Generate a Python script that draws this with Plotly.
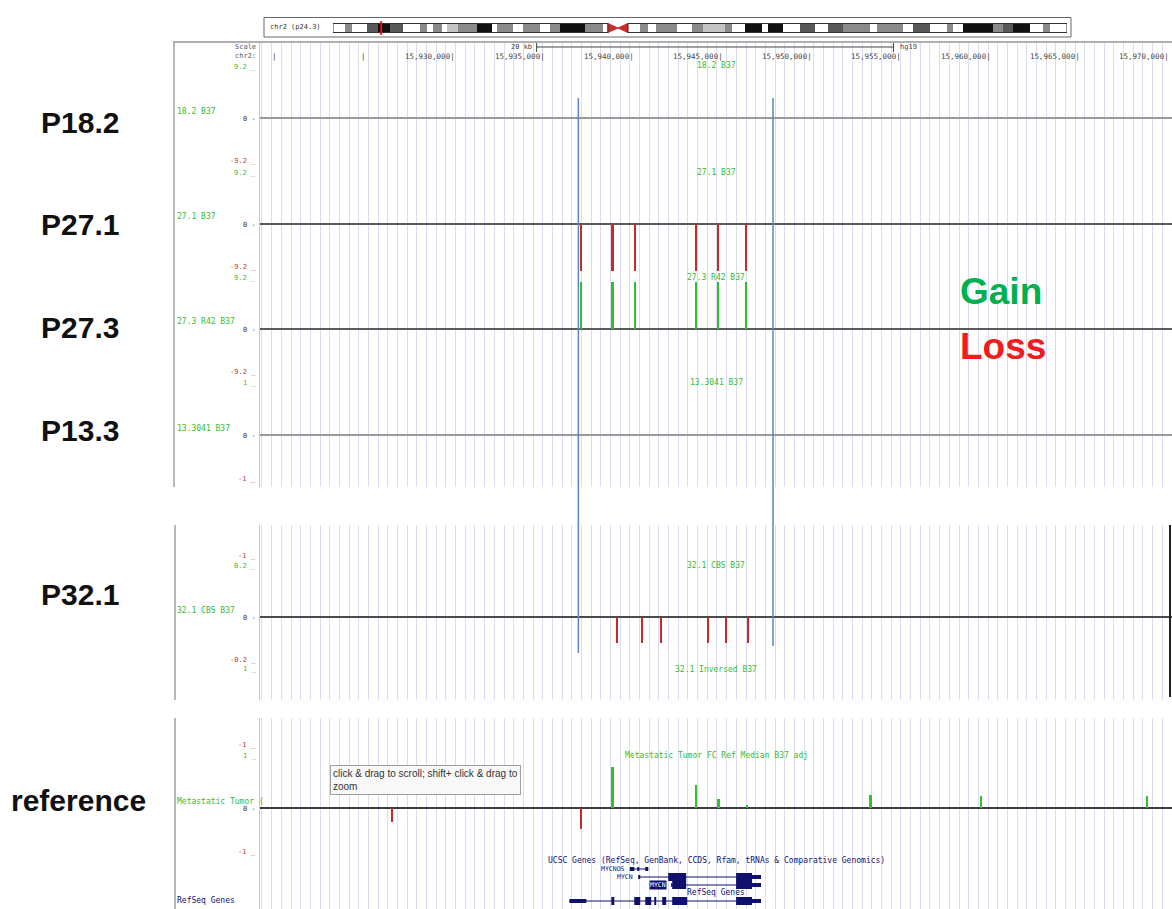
import plotly.graph_objects as go

W, H = 1172, 909


def fx(px):
    return px / W


def fy(px):
    return 1 - px / H


# ---------------- data ----------------
chrom_name = "chr2"
chrom_band = "p24.3"
assembly = "hg19"
view_start = 15918943
view_end = 15970050
ruler_ticks = [15920000, 15925000, 15930000, 15935000, 15940000, 15945000,
               15950000, 15955000, 15960000, 15965000, 15970000]
guide_start = 15919597
guide_step = 542.5
highlight_bounds = [15936784, 15947690]
scale_bar_bounds = [15934446, 15954446]
scale_bar_label = "20 kb"

chrom_length_mb = 243.2
band_start_mb = [0.0, 4.0, 6.3, 11.3, 14.9, 18.9, 23.2, 28.8, 31.1, 33.1,
                 36.1, 37.8, 41.4, 47.7, 52.7, 54.3, 59.6, 62.9, 68.6, 71.9,
                 75.2, 83.5, 89.4, 91.1, 94.4, 97.7, 101.7, 104.4, 107.0, 114.0,
                 118.9, 122.6, 129.9, 132.2, 136.5, 142.1, 144.1, 149.1, 154.7, 159.7,
                 164.0, 169.0, 177.9, 180.2, 188.8, 192.2, 197.8, 203.4, 205.4, 208.7,
                 218.7, 222.0, 225.3, 230.9, 235.2, 237.5]
band_stain = ["gneg", "gpos50", "gneg", "gpos75", "gpos100", "gpos75", "gneg", "gpos50", "gneg", "gpos50",
              "gneg", "gpos25", "gpos50", "gpos100", "gneg", "gpos50", "gneg", "gpos50", "gneg", "gpos50",
              "gpos100", "gpos50", "gneg", "acen", "acen", "gneg", "gpos50", "gneg", "gpos50", "gneg",
              "gpos50", "gpos25", "gpos50", "gneg", "gpos100", "gneg", "gpos100", "gneg", "gpos75", "gneg",
              "gpos75", "gpos50", "gneg", "gpos50", "gneg", "gpos75", "gneg", "gpos50", "gneg", "gpos100",
              "gpos50", "gpos75", "gpos100", "gneg", "gpos50", "gneg"]
view_center_mb = 15.944

sample_labels = ["P18.2", "P27.1", "P27.3", "P13.3", "P32.1", "reference"]
track_titles = ["18.2 B37", "27.1 B37", "27.3 R42 B37", "13.3041 B37", "32.1 CBS B37",
                "Metastatic Tumor FC Ref Median B37 adj"]
track_side_names = ["18.2 B37", "27.1 B37", "27.3 R42 B37", "13.3041 B37", "32.1 CBS B37",
                    "Metastatic Tumor ("]
track_limits = [9.2, 9.2, 9.2, 1.0, 0.2, 1.0]
track_top_text = ["9.2", "9.2", "9.2", "1", "0.2", "1"]
track_bottom_text = ["-9.2", "-9.2", "-9.2", "-1", "-0.2", "-1"]

p18_2_pos = []
p18_2_val = []
p18_2_width = []
p27_1_pos = [15936952, 15938686, 15939973, 15943384, 15944615, 15946181]
p27_1_val = [-9.2, -9.2, -9.2, -9.2, -9.2, -9.2]
p27_1_width = [110, 160, 80, 110, 130, 130]
p27_3_pos = [15936952, 15938686, 15939973, 15943384, 15944615, 15946181]
p27_3_val = [9.2, 9.2, 9.2, 9.2, 9.2, 9.2]
p27_3_width = [110, 160, 80, 110, 130, 130]
p13_3_pos = []
p13_3_val = []
p13_3_width = []
p32_1_pos = [15938982, 15940381, 15941410, 15944056, 15945079, 15946310]
p32_1_val = [-0.11, -0.11, -0.11, -0.11, -0.11, -0.11]
p32_1_width = [70, 70, 70, 110, 120, 110]
ref_pos = [15926365, 15936969, 15938686, 15943373, 15944643, 15946237, 15953172, 15959352, 15968653]
ref_val = [-0.30, -0.44, 0.85, 0.47, 0.19, 0.07, 0.27, 0.24, 0.24]
ref_width = [90, 90, 160, 100, 110, 110, 150, 150, 150]

genes = [
    dict(name="MYCNOS", row=0, start=15939665, end=15940700, label="plain",
         exons=[(15939665, 15939917, "utr"), (15940084, 15940196, "utr"), (15940532, 15940700, "utr")]),
    dict(name="MYCN", row=1, start=15940140, end=15947020, label="plain",
         exons=[(15940140, 15940252, "utr"), (15941818, 15942825, "cds"),
                (15945622, 15946516, "cds"), (15946516, 15947020, "utr")]),
    dict(name="MYCN", row=2, start=15941986, end=15947020, label="boxed",
         exons=[(15941986, 15942042, "utr"), (15942042, 15942825, "cds"),
                (15945622, 15946516, "cds"), (15946516, 15947020, "utr")]),
    dict(name="", row=4, start=15936281, end=15947020, label="none",
         exons=[(15936281, 15937232, "utr"), (15938630, 15938798, "cds"), (15939917, 15940252, "cds"),
                (15940532, 15940867, "cds"), (15941035, 15941147, "cds"), (15941483, 15941706, "cds"),
                (15942042, 15942881, "cds"), (15945622, 15946516, "cds"), (15946516, 15947020, "utr")]),
]

# ---------------- style / layout constants ----------------
MONO = "DejaVu Sans Mono"
SANS = "Liberation Sans, Arial"
GREEN = "#2fc12f"
RED = "#c42b2b"
GREEN_TXT = "#33bb33"
RED_TXT = "#cc3333"
NAVY = "#10106e"
GRID = "#dcdcf0"

panels_px = [(42, 487), (525, 700), (718, 909)]
track_zero_px = [118, 224, 329, 435, 617, 808]
track_half_px = [47, 47, 47, 48, 47, 48]
zero_colors = ["#9a9a9a", "#5a5a5a", "#5a5a5a", "#9a9a9a", "#4a4a4a", "#3a3a3a"]
sample_label_y = [122, 224, 327, 430, 594, 800]
sample_label_x = [39, 39, 39, 39, 39, 9]

track_data = [(p18_2_pos, p18_2_val, p18_2_width), (p27_1_pos, p27_1_val, p27_1_width),
              (p27_3_pos, p27_3_val, p27_3_width), (p13_3_pos, p13_3_val, p13_3_width),
              (p32_1_pos, p32_1_val, p32_1_width), (ref_pos, ref_val, ref_width)]

fig = go.Figure()

hidden = dict(showgrid=False, zeroline=False, showticklabels=False, ticks="", showline=False, fixedrange=True)
layout_axes = {}

# background panels (guidelines + left pink line)
for i, (top, bot) in enumerate(panels_px):
    name = "y" if i == 0 else f"y{i + 1}"
    key = "yaxis" if i == 0 else f"yaxis{i + 1}"
    layout_axes[key] = dict(hidden, domain=[fy(bot), fy(top)], range=[0, 1], anchor="x",
                            showline=True, linecolor="#f2b4b4", linewidth=1)
    fig.add_trace(go.Scatter(x=[view_start], y=[0.5], mode="markers", marker=dict(opacity=0),
                             hoverinfo="skip", xaxis="x", yaxis=name))

# data tracks
for k, (pos, val, wid) in enumerate(track_data):
    n = k + 4
    zero, half = track_zero_px[k], track_half_px[k]
    lim = track_limits[k]
    layout_axes[f"yaxis{n}"] = dict(hidden, domain=[fy(zero + half), fy(zero - half)], range=[-lim, lim],
                                    anchor="x", zeroline=True, zerolinecolor=zero_colors[k], zerolinewidth=2)
    fig.add_trace(go.Scatter(x=[view_start], y=[0], mode="markers", marker=dict(opacity=0),
                             hoverinfo="skip", xaxis="x", yaxis=f"y{n}"))
    if pos:
        fig.add_trace(go.Bar(x=pos, y=val, width=wid,
                             marker=dict(color=[GREEN if v > 0 else RED for v in val], line=dict(width=0)),
                             hoverinfo="skip", xaxis="x", yaxis=f"y{n}"))

# gene track
layout_axes["yaxis10"] = dict(hidden, domain=[fy(908), fy(861)], range=[4.875, -1], anchor="x")
gene_anns = []
for g in genes:
    fig.add_trace(go.Scatter(x=[g["start"], g["end"]], y=[g["row"], g["row"]], mode="lines",
                             line=dict(color=NAVY, width=1), hoverinfo="skip", xaxis="x", yaxis="y10"))
    for kind, lw in (("utr", 4), ("cds", 8)):
        xs, ys = [], []
        for s, e, t in g["exons"]:
            if t == kind:
                xs += [s, e, None]
                ys += [g["row"], g["row"], None]
        if xs:
            fig.add_trace(go.Scatter(x=xs, y=ys, mode="lines", line=dict(color=NAVY, width=lw),
                                     hoverinfo="skip", xaxis="x", yaxis="y10"))
    if g["label"] == "plain":
        gene_anns.append(dict(text=g["name"], x=g["start"], xref="x", y=g["row"], yref="y10",
                              xanchor="right", xshift=-3, yanchor="middle", showarrow=False,
                              font=dict(family=MONO, size=6.5, color=NAVY)))
    elif g["label"] == "boxed":
        gene_anns.append(dict(text=g["name"], x=g["start"], xref="x", y=g["row"], yref="y10",
                              xanchor="right", xshift=-4, yanchor="middle", showarrow=False,
                              bgcolor=NAVY, borderpad=0, font=dict(family=MONO, size=6.5, color="white")))

# ideogram
stain_colors = {"gneg": "#ffffff", "gpos25": "#c4c4c4", "gpos50": "#8a8a8a",
                "gpos75": "#585858", "gpos100": "#111111"}
band_end_mb = band_start_mb[1:] + [chrom_length_mb]
bs, bl, bc = [], [], []
acen_idx = []
for i, (s, e, st) in enumerate(zip(band_start_mb, band_end_mb, band_stain)):
    if st == "acen":
        acen_idx.append(i)
        continue
    bs.append(s)
    bl.append(e - s)
    bc.append(stain_colors[st])
fig.add_trace(go.Bar(orientation="h", y=[0.5] * len(bs), x=bl, base=bs, width=1,
                     marker=dict(color=bc, line=dict(width=0)), hoverinfo="skip", xaxis="x2", yaxis="y11"))
p_cen_start = band_start_mb[acen_idx[0]]
cen_mid = band_end_mb[acen_idx[0]]
q_cen_end = band_end_mb[acen_idx[-1]]
fig.add_trace(go.Scatter(x=[p_cen_start, p_cen_start, cen_mid, p_cen_start], y=[0, 1, 0.5, 0],
                         fill="toself", fillcolor="#cc2b2b", mode="lines", line=dict(color="#cc2b2b", width=1),
                         hoverinfo="skip", xaxis="x2", yaxis="y11"))
fig.add_trace(go.Scatter(x=[q_cen_end, q_cen_end, cen_mid, q_cen_end], y=[0, 1, 0.5, 0],
                         fill="toself", fillcolor="#cc2b2b", mode="lines", line=dict(color="#cc2b2b", width=1),
                         hoverinfo="skip", xaxis="x2", yaxis="y11"))
fig.add_trace(go.Scatter(x=[0, p_cen_start, p_cen_start, 0, 0, None,
                            q_cen_end, chrom_length_mb, chrom_length_mb, q_cen_end, q_cen_end],
                         y=[0, 0, 1, 1, 0, None, 0, 0, 1, 1, 0], mode="lines",
                         line=dict(color="#333333", width=1), hoverinfo="skip", xaxis="x2", yaxis="y11"))
fig.add_trace(go.Scatter(x=[view_center_mb, view_center_mb], y=[-0.25, 1.25], mode="lines",
                         line=dict(color="#e01010", width=2), hoverinfo="skip", xaxis="x2", yaxis="y11"))
layout_axes["xaxis2"] = dict(hidden, domain=[fx(333), fx(1067)], range=[0, chrom_length_mb], anchor="y11")
layout_axes["yaxis11"] = dict(hidden, domain=[fy(35), fy(21)], range=[-0.278, 1.278], anchor="x2")

layout_axes["xaxis"] = dict(domain=[fx(260), 1], range=[view_start, view_end], anchor="y",
                            showgrid=True, gridcolor=GRID, gridwidth=1, tickmode="linear",
                            tick0=guide_start, dtick=guide_step, showticklabels=False, ticks="",
                            zeroline=False, showline=False, fixedrange=True)

# ---------------- annotations ----------------
def txt(text, xpx, ypx, size=7, color="#444444", anchor="left", family=MONO, **kw):
    d = dict(text=text, x=fx(xpx), y=fy(ypx), xref="paper", yref="paper", xanchor=anchor,
             yanchor="middle", showarrow=False, font=dict(size=size, color=color, family=family))
    d.update(kw)
    return d


anns = []
# header
anns.append(txt("Scale", 233, 47, color="#555555"))
anns.append(txt(f"{chrom_name}:", 233, 56, color="#555555"))
anns.append(txt(f"{chrom_name} ({chrom_band})", 268, 27, color="#333333"))
anns.append(dict(text=scale_bar_label, x=scale_bar_bounds[0], xref="x", y=fy(47), yref="paper",
                 xanchor="right", xshift=-3, yanchor="middle", showarrow=False,
                 font=dict(family=MONO, size=7, color="#444444")))
anns.append(dict(text=assembly, x=scale_bar_bounds[1], xref="x", y=fy(47), yref="paper",
                 xanchor="left", xshift=4, yanchor="middle", showarrow=False,
                 font=dict(family=MONO, size=7, color="#444444")))
for t in ruler_ticks:
    label = f"{t:,}|" if t - view_start > 9000 else "|"
    anns.append(dict(text=label, x=t, xref="x", y=fy(57), yref="paper", xanchor="right",
                     yanchor="middle", showarrow=False, font=dict(family=MONO, size=7.5, color="#444444")))

# tracks
for k in range(6):
    zero, half = track_zero_px[k], track_half_px[k]
    top, bot = zero - half, zero + half
    anns.append(txt(track_top_text[k] + " _", 258, top - 4, color=GREEN_TXT, anchor="right"))
    anns.append(txt("0 -", 258, zero + 1, color="#333333", anchor="right"))
    anns.append(txt(track_bottom_text[k] + " _", 258, bot - 4, color=RED_TXT, anchor="right"))
    anns.append(txt(track_titles[k], 716, top - 5, size=8, color=GREEN_TXT, anchor="center"))
    anns.append(txt(track_side_names[k], 175, zero - 7, size=8, color=GREEN_TXT))
    anns.append(txt(f"<b>{sample_labels[k]}</b>", sample_label_x[k], sample_label_y[k], size=30,
                    color="#111111", family=SANS))

# labels of neighbouring (cut-off) tracks
anns.append(txt("-1 _", 258, 556, color=RED_TXT, anchor="right"))
anns.append(txt("1 _", 258, 669, color=GREEN_TXT, anchor="right"))
anns.append(txt("32.1 Inversed B37", 716, 669, size=8, color=GREEN_TXT, anchor="center"))
anns.append(txt("-1 _", 258, 745, color=RED_TXT, anchor="right"))

# gene track labels
anns.append(txt("UCSC Genes (RefSeq, GenBank, CCDS, Rfam, tRNAs & Comparative Genomics)", 716, 860,
                size=8, color=NAVY, anchor="center"))
anns.append(txt("RefSeq Genes", 716, 892, size=8, color=NAVY, anchor="center"))
anns.append(txt("RefSeq Genes", 175, 900, size=8, color=NAVY))
anns += gene_anns

# tooltip
anns.append(dict(text="click &amp; drag to scroll; shift+ click &amp; drag to<br>zoom", x=fx(330), y=fy(765),
                 xref="paper", yref="paper", xanchor="left", yanchor="top", align="left", showarrow=False,
                 bgcolor="#f8f8f8", bordercolor="#a0a0a0", borderwidth=1, borderpad=2,
                 font=dict(family=SANS, size=10, color="#333333")))

# Gain / Loss legend
anns.append(txt("<b>Gain</b>", 958, 292, size=37, color="#00b050", family=SANS))
anns.append(txt("<b>Loss</b>", 958, 346, size=37, color="#ee1c1c", family=SANS))

# ---------------- shapes ----------------
shapes = []
shapes.append(dict(type="rect", xref="paper", yref="paper", x0=fx(264), x1=fx(1071), y0=fy(37), y1=fy(17.5),
                   line=dict(color="#666666", width=1), fillcolor="rgba(0,0,0,0)"))
shapes.append(dict(type="line", xref="paper", yref="paper", x0=fx(173), x1=1, y0=fy(42), y1=fy(42),
                   line=dict(color="#b0b0b0", width=2)))
shapes.append(dict(type="line", xref="paper", yref="paper", x0=fx(174), x1=fx(174), y0=fy(42), y1=fy(487),
                   line=dict(color="#a0a0a0", width=1.5)))
shapes.append(dict(type="line", xref="paper", yref="paper", x0=fx(175), x1=fx(175), y0=fy(525), y1=fy(700),
                   line=dict(color="#a0a0a0", width=1.5)))
shapes.append(dict(type="line", xref="paper", yref="paper", x0=fx(1170), x1=fx(1170), y0=fy(525), y1=fy(697),
                   line=dict(color="#222222", width=2)))
shapes.append(dict(type="line", xref="paper", yref="paper", x0=fx(175), x1=fx(175), y0=fy(718), y1=fy(909),
                   line=dict(color="#a0a0a0", width=1.5)))
# scale bar
sb0, sb1 = scale_bar_bounds
shapes.append(dict(type="line", xref="x", yref="paper", x0=sb0, x1=sb1, y0=fy(47), y1=fy(47),
                   line=dict(color="#444444", width=1)))
for sbx in scale_bar_bounds:
    shapes.append(dict(type="line", xref="x", yref="paper", x0=sbx, x1=sbx, y0=fy(43), y1=fy(52),
                       line=dict(color="#444444", width=1)))
# highlight boundaries
for hx, yb in zip(highlight_bounds, [653, 646]):
    shapes.append(dict(type="line", xref="x", yref="paper", x0=hx, x1=hx, y0=fy(98), y1=fy(yb),
                       line=dict(color="#5b86c0", width=1.5), layer="above"))

fig.update_layout(width=W, height=H, margin=dict(l=0, r=0, t=0, b=0), paper_bgcolor="white",
                  plot_bgcolor="white", showlegend=False, barmode="overlay", bargap=0, hovermode=False,
                  annotations=anns, shapes=shapes, **layout_axes)

fig.write_html("out.html", config={"displayModeBar": False},
               post_script="document.body.style.margin='0';document.body.style.padding='0';")
